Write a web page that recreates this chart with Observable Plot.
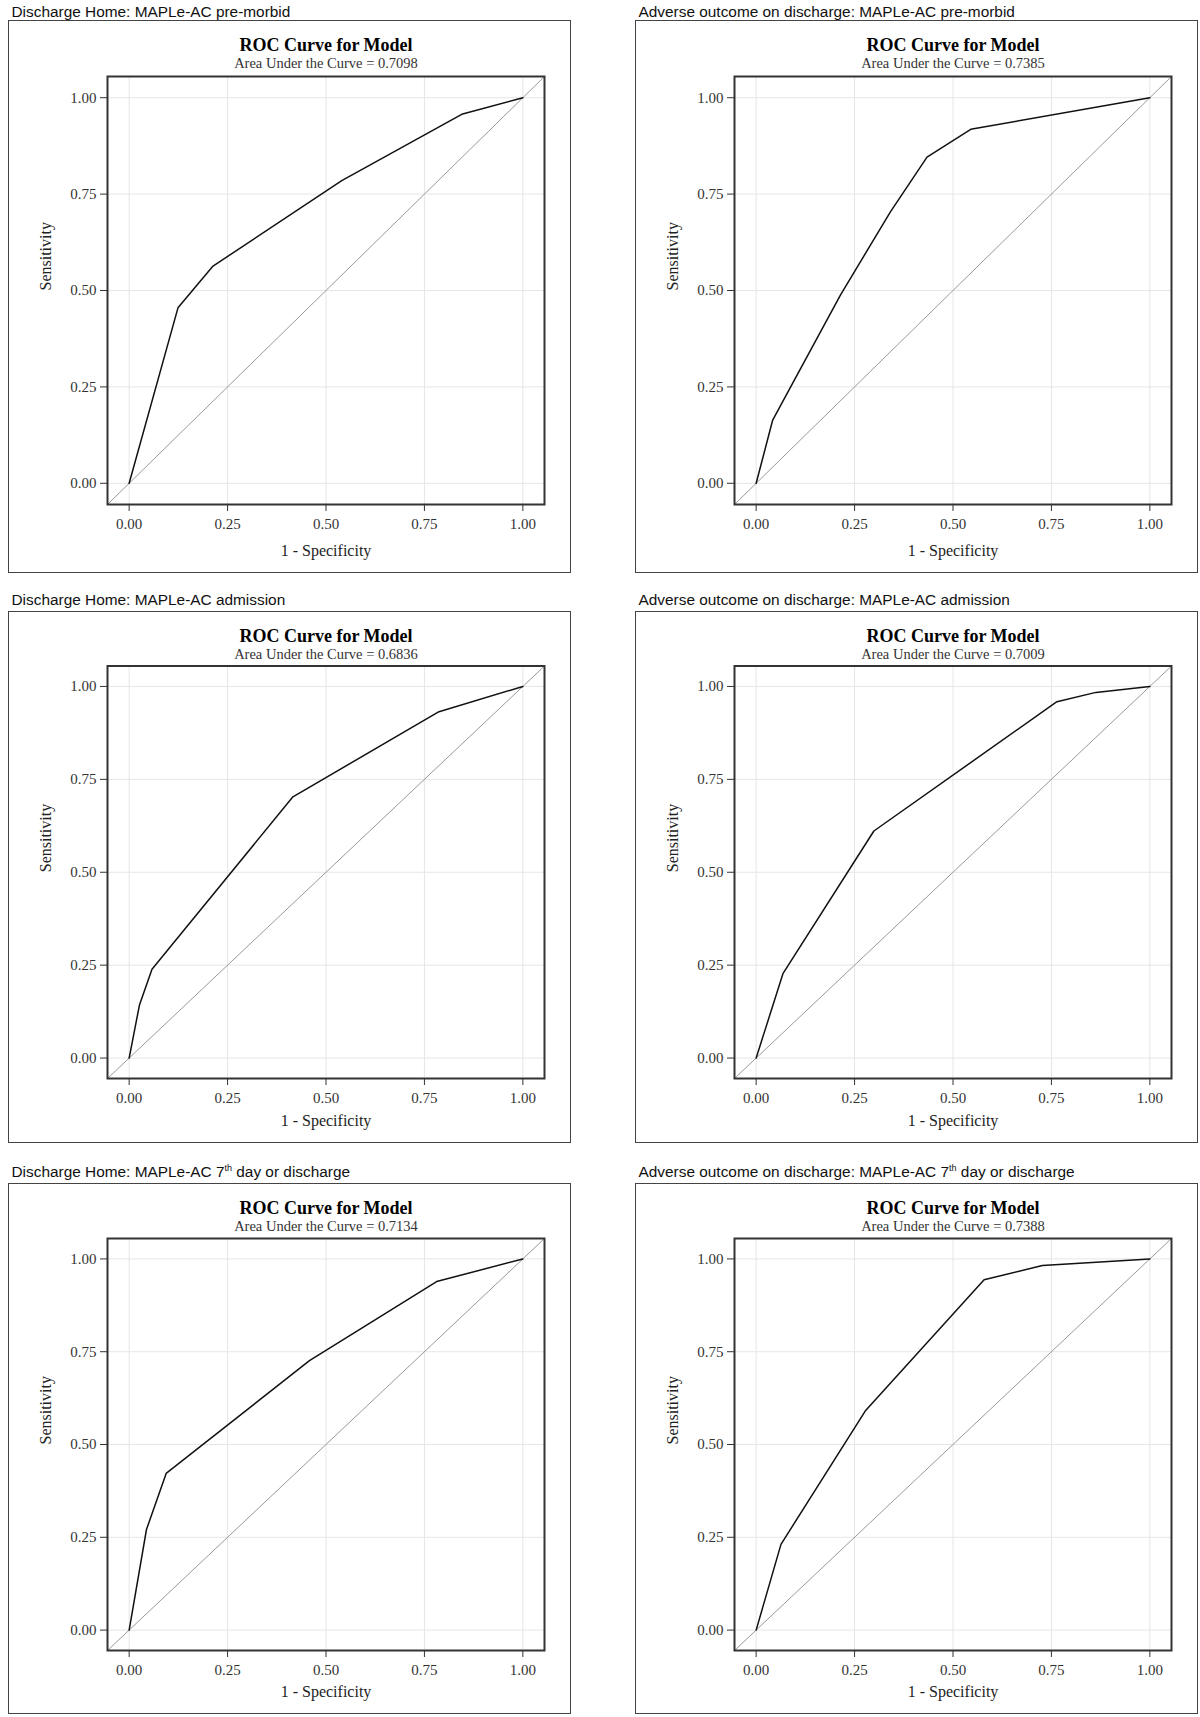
<!DOCTYPE html>
<html>
<head>
<meta charset="utf-8">
<script src="https://cdn.jsdelivr.net/npm/d3@7"></script>
<script src="https://cdn.jsdelivr.net/npm/@observablehq/plot@0.6"></script>
<style>
  html, body { margin: 0; padding: 0; background: #fff; }
  #root { position: relative; width: 1200px; height: 1717px; background: #fff; }
  .plabel { position: absolute; font-family: "Liberation Sans", Arial, sans-serif; font-size: 15.4px; line-height: 18px; color: #111; white-space: nowrap; }
  .plabel sup { font-size: 9px; line-height: 0; vertical-align: 6px; }
  .pbox { position: absolute; box-sizing: border-box; border: 1.5px solid #444; }
  .pplot { position: absolute; }
  .pplot svg { display: block; }
</style>
</head>
<body>
<div id="root"></div>
<script>
// ---------- data ----------
const panelLabels = [
  "Discharge Home: MAPLe-AC pre-morbid",
  "Adverse outcome on discharge: MAPLe-AC pre-morbid",
  "Discharge Home: MAPLe-AC admission",
  "Adverse outcome on discharge: MAPLe-AC admission",
  "Discharge Home: MAPLe-AC 7th day or discharge",
  "Adverse outcome on discharge: MAPLe-AC 7th day or discharge"
];
const chartTitle = "ROC Curve for Model";
const aucValues = ["0.7098", "0.7385", "0.6836", "0.7009", "0.7134", "0.7388"];
const xAxisLabel = "1 - Specificity";
const yAxisLabel = "Sensitivity";
const tickValues = [0, 0.25, 0.5, 0.75, 1];
const axisDomain = [-0.055, 1.055];

// 1 - specificity (false positive rate) and sensitivity per panel
const fprHomePre = [0, 0.124, 0.212, 0.540, 0.847, 1];
const tprHomePre = [0, 0.455, 0.5625, 0.785, 0.958, 1];
const fprAdvPre  = [0, 0.042, 0.065, 0.214, 0.341, 0.434, 0.545, 1];
const tprAdvPre  = [0, 0.164, 0.207, 0.488, 0.704, 0.846, 0.918, 1];
const fprHomeAdm = [0, 0.026, 0.058, 0.416, 0.787, 1];
const tprHomeAdm = [0, 0.142, 0.239, 0.703, 0.932, 1];
const fprAdvAdm  = [0, 0.068, 0.299, 0.764, 0.863, 1];
const tprAdvAdm  = [0, 0.227, 0.611, 0.959, 0.984, 1];
const fprHome7   = [0, 0.044, 0.094, 0.458, 0.781, 1];
const tprHome7   = [0, 0.271, 0.422, 0.726, 0.939, 1];
const fprAdv7    = [0, 0.063, 0.277, 0.579, 0.727, 1];
const tprAdv7    = [0, 0.231, 0.590, 0.944, 0.982, 1];

const fprSeries = [fprHomePre, fprAdvPre, fprHomeAdm, fprAdvAdm, fprHome7, fprAdv7];
const tprSeries = [tprHomePre, tprAdvPre, tprHomeAdm, tprAdvAdm, tprHome7, tprAdv7];

// ---------- layout ----------
const colLeft = [8, 635];
const boxW = 563;
const rowsLayout = [
  { top: 20,     h: 553,   mT: 56,   mB: 69,   labelY: 11.5 },
  { top: 610.5,  h: 532,   mT: 54.5, mB: 65,   labelY: 600 },
  { top: 1182.5, h: 531.5, mT: 55,   mB: 64.5, labelY: 1172 }
];

const serif = "'Liberation Serif', 'Times New Roman', Times, serif";
const fmt = d3.format(".2f");
const root = document.getElementById("root");

function makePlot(i, L) {
  const pts = fprSeries[i].map((x, k) => ({ x, y: tprSeries[i][k] }));
  const diag = axisDomain.map(v => ({ x: v, y: v }));
  return Plot.plot({
    width: boxW,
    height: L.h,
    marginLeft: 99,
    marginRight: 27,
    marginTop: L.mT,
    marginBottom: L.mB,
    style: { fontFamily: serif, fontSize: "15px", color: "#333", background: "transparent", overflow: "visible" },
    x: { domain: axisDomain, ticks: tickValues, tickFormat: fmt, tickSize: 7, tickPadding: 7, label: null },
    y: { domain: axisDomain, ticks: tickValues, tickFormat: fmt, tickSize: 7, tickPadding: 4, label: null },
    marks: [
      Plot.ruleX(tickValues, { stroke: "#e6e6e6", strokeWidth: 1 }),
      Plot.ruleY(tickValues, { stroke: "#e6e6e6", strokeWidth: 1 }),
      Plot.line(diag, { x: "x", y: "y", stroke: "#999", strokeWidth: 1 }),
      Plot.line(pts, { x: "x", y: "y", stroke: "#111", strokeWidth: 1.5 }),
      Plot.frame({ stroke: "#333", strokeWidth: 2 }),
      Plot.text([chartTitle], { text: d => d, frameAnchor: "top", lineAnchor: "middle", dy: 24.5 - L.mT, fontWeight: "bold", fontSize: 18, fill: "#000" }),
      Plot.text(["Area Under the Curve = " + aucValues[i]], { text: d => d, frameAnchor: "top", lineAnchor: "middle", dy: 42.5 - L.mT, fontSize: 14.5, fill: "#333" }),
      Plot.text([xAxisLabel], { text: d => d, frameAnchor: "bottom", lineAnchor: "middle", dy: L.mB - 23, fontSize: 16, fill: "#222" }),
      Plot.text([yAxisLabel], { text: d => d, frameAnchor: "left", lineAnchor: "middle", dx: -62, rotate: -90, fontSize: 16, fill: "#222" })
    ]
  });
}

panelLabels.forEach((label, i) => {
  const L = rowsLayout[Math.floor(i / 2)];
  const left = colLeft[i % 2];

  const lab = document.createElement("div");
  lab.className = "plabel";
  lab.style.left = (left + 3.5) + "px";
  lab.style.top = (L.labelY - 9) + "px";
  lab.innerHTML = label.replace("7th", "7<sup>th</sup>");
  root.appendChild(lab);

  const holder = document.createElement("div");
  holder.className = "pplot";
  holder.style.left = left + "px";
  holder.style.top = L.top + "px";
  holder.appendChild(makePlot(i, L));
  root.appendChild(holder);

  const box = document.createElement("div");
  box.className = "pbox";
  box.style.left = left + "px";
  box.style.top = L.top + "px";
  box.style.width = boxW + "px";
  box.style.height = L.h + "px";
  root.appendChild(box);
});
</script>
</body>
</html>
